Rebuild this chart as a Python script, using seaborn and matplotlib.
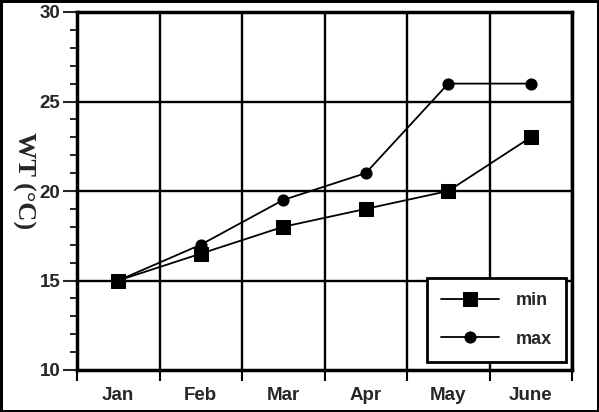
import numpy as np
import pandas as pd
import matplotlib
matplotlib.use("Agg")
import matplotlib.pyplot as plt
import seaborn as sns
from matplotlib.ticker import MultipleLocator, FixedLocator

# données
months = ["Jan", "Feb", "Mar", "Apr", "May", "June"]
wt_min = [15, 16.5, 18, 19, 20, 23]
wt_max = [15, 17, 19.5, 21, 26, 26]

df = pd.DataFrame({
    "pos": list(range(len(months))) * 2,
    "wt": wt_min + wt_max,
    "serie": ["min"] * len(months) + ["max"] * len(months),
})

sns.set_style("white")
plt.rcParams["font.family"] = ["Liberation Sans", "DejaVu Sans"]
plt.rcParams["font.weight"] = "bold"

fig = plt.figure(figsize=(5.99, 4.12), dpi=100)
fig.patch.set_edgecolor("black")
fig.patch.set_linewidth(2.5)
ax = fig.add_axes([77 / 599, 1 - 370 / 412, 495 / 599, 358 / 412])

sns.lineplot(data=df, x="pos", y="wt", hue="serie", style="serie",
             palette={"min": "black", "max": "black"},
             markers={"min": "s", "max": "o"}, dashes=False,
             markersize=10, linewidth=1.3, markeredgecolor="black", ax=ax)

for ln in ax.lines:
    if ln.get_marker() == "s":
        ln.set_markersize(10.5)
    elif ln.get_marker() == "o":
        ln.set_markersize(8)

ax.set_xlim(-0.5, len(months) - 0.5)
ax.set_ylim(10, 30)

# labels au centre, ticks aux frontières
ax.xaxis.set_major_locator(FixedLocator(np.arange(len(months))))
ax.set_xticklabels(months)
ax.xaxis.set_minor_locator(FixedLocator(np.arange(len(months) + 1) - 0.5))
ax.tick_params(axis="x", which="major", length=0, labelsize=13.5, pad=12)
ax.tick_params(axis="x", which="minor", length=8, width=1.5, direction="out",
               color="black", bottom=True)
ax.yaxis.set_major_locator(MultipleLocator(5))
ax.yaxis.set_minor_locator(MultipleLocator(1))
ax.tick_params(axis="y", which="major", length=10, width=1.5, direction="out",
               left=True, labelsize=13.5, pad=2)
ax.tick_params(axis="y", which="minor", length=5, width=1.2, direction="out",
               left=True, color="black")

for b in np.arange(len(months) + 1) - 0.5:
    ax.axvline(b, color="black", lw=1.7, zorder=0)
for v in [15, 20, 25]:
    ax.axhline(v, color="black", lw=1.7, zorder=0)

for s in ax.spines.values():
    s.set_color("black")
    s.set_linewidth(2.5)

ax.set_xlabel("")
ax.set_ylabel("WT (°C)", family=["Liberation Serif", "DejaVu Serif"],
              fontsize=19, fontweight="bold", rotation=270,
              va="center", ha="center")
ax.yaxis.set_label_coords(-0.108, 0.53)

leg = ax.legend(loc="lower right", bbox_to_anchor=(0.988, 0.022),
                handlelength=3.2, handletextpad=0.9, borderpad=0.8,
                labelspacing=1.2, fontsize=13, fancybox=False, framealpha=1,
                edgecolor="black", borderaxespad=0)
leg.get_frame().set_linewidth(2)
for t in leg.get_texts():
    t.set_fontweight("bold")

fig.savefig("out.png", dpi=100, edgecolor=fig.get_edgecolor())
